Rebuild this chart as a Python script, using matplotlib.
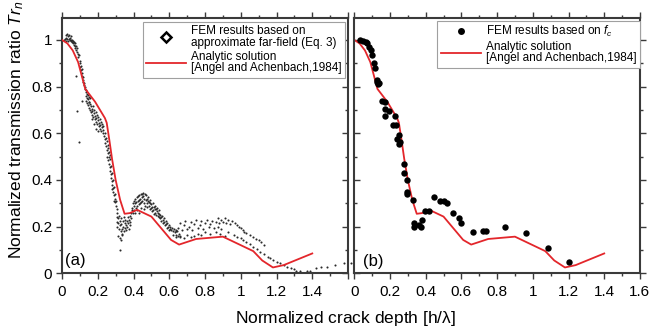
import numpy as np
import matplotlib.pyplot as plt
from matplotlib.lines import Line2D
from matplotlib.ticker import MultipleLocator, FixedLocator, FixedFormatter
from matplotlib.markers import TICKLEFT, TICKRIGHT

plt.rcParams['font.family'] = ['Liberation Sans', 'DejaVu Sans']
plt.rcParams['mathtext.fontset'] = 'custom'
plt.rcParams['mathtext.it'] = 'Liberation Sans:italic'
plt.rcParams['mathtext.rm'] = 'Liberation Sans'

# analytic solution (Angel & Achenbach 1984)
h_ana = [0, 0.03, 0.06, 0.09, 0.13, 0.185, 0.24, 0.25, 0.265, 0.28, 0.30, 0.325,
         0.35, 0.38, 0.42, 0.50, 0.61, 0.655, 0.75, 0.90, 1.07, 1.12, 1.18, 1.24, 1.40]
tr_ana = [1.0, 0.985, 0.955, 0.905, 0.79, 0.735, 0.665, 0.645, 0.57, 0.49, 0.40, 0.315,
          0.255, 0.258, 0.272, 0.243, 0.143, 0.123, 0.147, 0.157, 0.095, 0.055, 0.025, 0.035, 0.085]

# FEM, approximate far-field (Eq. 3)
h_far = [
    0.01, 0.015, 0.02, 0.022, 0.025, 0.028, 0.03, 0.033, 0.035, 0.038, 0.04, 0.042, 0.045, 0.048, 0.05,
    0.052, 0.055, 0.058, 0.06, 0.063, 0.065, 0.068, 0.07, 0.073, 0.075, 0.078, 0.08, 0.083, 0.085,
    0.088, 0.092, 0.095, 0.098, 0.1, 0.102, 0.105, 0.108, 0.11, 0.112, 0.114, 0.116, 0.118, 0.12,
    0.122, 0.125, 0.127, 0.13, 0.132, 0.135, 0.137, 0.14, 0.142, 0.145, 0.148, 0.15, 0.153, 0.156,
    0.135, 0.14, 0.145, 0.15, 0.152, 0.155, 0.158, 0.16, 0.162, 0.165, 0.168, 0.17, 0.172, 0.175,
    0.178, 0.18, 0.182, 0.185, 0.188, 0.19, 0.192, 0.195, 0.198, 0.2, 0.202, 0.205, 0.208, 0.21,
    0.212, 0.215, 0.218, 0.22, 0.222, 0.225, 0.228, 0.23, 0.232, 0.17, 0.18, 0.19, 0.2,
    0.235, 0.238, 0.24, 0.242, 0.245, 0.248, 0.25, 0.252, 0.255, 0.258, 0.26, 0.262, 0.265, 0.268,
    0.27, 0.25, 0.255,
    0.265, 0.268, 0.27, 0.272, 0.274, 0.276, 0.278, 0.28, 0.282, 0.284, 0.286, 0.288, 0.29, 0.292,
    0.294, 0.296, 0.298, 0.3, 0.302, 0.305, 0.308, 0.28, 0.29,
    0.305, 0.308, 0.31, 0.312, 0.315, 0.318, 0.32, 0.322, 0.325, 0.328, 0.33, 0.332, 0.335, 0.338,
    0.34, 0.342, 0.345, 0.348, 0.35, 0.352, 0.355, 0.358, 0.36, 0.362, 0.365, 0.368, 0.37, 0.372,
    0.375, 0.378, 0.38, 0.382, 0.385, 0.388, 0.39, 0.315, 0.325, 0.33, 0.322, 0.335,
    0.392, 0.395, 0.398, 0.4, 0.403, 0.405, 0.408, 0.41, 0.412, 0.415, 0.418, 0.42, 0.423, 0.425,
    0.428, 0.43, 0.433, 0.435, 0.438, 0.44, 0.443, 0.445, 0.448, 0.45, 0.453, 0.455, 0.458, 0.46,
    0.463, 0.465, 0.468, 0.47, 0.473, 0.475, 0.478, 0.48, 0.483, 0.485, 0.488, 0.49, 0.493, 0.495,
    0.498, 0.5, 0.503, 0.505, 0.508, 0.51, 0.513, 0.515, 0.518, 0.52, 0.523, 0.525, 0.528, 0.53,
    0.533, 0.535, 0.538, 0.54, 0.543, 0.545, 0.548, 0.55, 0.41, 0.42, 0.44, 0.46, 0.43,
    0.553, 0.556, 0.56, 0.563, 0.566, 0.57, 0.573, 0.576, 0.58, 0.583, 0.586, 0.59, 0.593, 0.596,
    0.6, 0.603, 0.606, 0.61, 0.615, 0.62, 0.625, 0.63, 0.635, 0.64, 0.645, 0.65, 0.655, 0.66,
    0.66, 0.69, 0.72, 0.75, 0.78, 0.81, 0.84, 0.87, 0.89, 0.91, 0.93, 0.95,
    0.65, 0.68, 0.71, 0.74, 0.77, 0.80, 0.83, 0.86, 0.88, 0.90, 0.92, 0.94,
    0.64, 0.67, 0.70, 0.73, 0.76, 0.79, 0.82, 0.85, 0.87, 0.89,
    0.62, 0.64, 0.66, 0.68, 0.70, 0.72, 0.74, 0.76, 0.78, 0.80, 0.83, 0.86, 0.885, 0.91,
    0.97, 0.98, 0.99, 1.0, 1.01, 1.02, 1.03, 1.05, 1.07, 1.085, 1.1, 1.115, 1.13,
    0.93, 0.96, 0.98, 1.0, 1.015, 1.03, 1.05, 1.07, 1.09, 1.11, 1.13, 1.15, 1.165, 1.18, 1.2,
    1.22, 1.24, 1.26, 1.28, 1.30, 1.31,
    1.333, 1.37, 1.39, 1.42, 1.45, 1.48, 1.53, 1.58, 1.615,
    0.078, 0.086, 0.095, 0.11,
]
tr_far = [
    1.0, 1.005, 1.01, 1.02, 0.995, 1.025, 1.005, 1.015, 0.995, 1.02, 1.005, 1.0, 1.01, 0.995, 1.0,
    1.015, 0.99, 1.0, 0.985, 0.995, 0.98, 0.99, 0.975, 0.985, 0.965, 0.975, 0.955, 0.965, 0.95,
    0.94, 0.925, 0.935, 0.91, 0.9, 0.885, 0.89, 0.87, 0.86, 0.875, 0.845, 0.83, 0.84, 0.82,
    0.805, 0.815, 0.79, 0.8, 0.775, 0.785, 0.76, 0.77, 0.75, 0.765, 0.745, 0.755, 0.735, 0.75,
    0.74, 0.73, 0.72, 0.735, 0.71, 0.725, 0.7, 0.715, 0.69, 0.705, 0.68, 0.695, 0.715, 0.67,
    0.685, 0.7, 0.66, 0.675, 0.69, 0.65, 0.665, 0.68, 0.64, 0.655, 0.67, 0.63, 0.645, 0.66,
    0.62, 0.635, 0.65, 0.61, 0.625, 0.64, 0.6, 0.615, 0.63, 0.66, 0.64, 0.62, 0.61,
    0.59, 0.575, 0.6, 0.56, 0.58, 0.545, 0.565, 0.53, 0.55, 0.515, 0.535, 0.5, 0.52, 0.49,
    0.505, 0.5, 0.485,
    0.47, 0.455, 0.44, 0.46, 0.425, 0.41, 0.43, 0.395, 0.38, 0.4, 0.365, 0.35, 0.37, 0.335,
    0.32, 0.34, 0.305, 0.29, 0.31, 0.275, 0.26, 0.36, 0.31,
    0.24, 0.22, 0.2, 0.235, 0.215, 0.19, 0.245, 0.225, 0.205, 0.18, 0.235, 0.21, 0.19, 0.17,
    0.225, 0.2, 0.18, 0.24, 0.215, 0.195, 0.23, 0.205, 0.185, 0.225, 0.2, 0.24, 0.215, 0.19,
    0.23, 0.205, 0.245, 0.22, 0.26, 0.235, 0.27, 0.16, 0.15, 0.143, 0.1, 0.165,
    0.28, 0.3, 0.26, 0.29, 0.31, 0.27, 0.3, 0.32, 0.28, 0.305, 0.325, 0.29, 0.31, 0.33,
    0.295, 0.315, 0.335, 0.3, 0.32, 0.34, 0.305, 0.325, 0.34, 0.31, 0.33, 0.345, 0.3, 0.32,
    0.34, 0.29, 0.315, 0.335, 0.3, 0.32, 0.285, 0.31, 0.325, 0.29, 0.305, 0.275, 0.3, 0.315,
    0.28, 0.295, 0.265, 0.285, 0.3, 0.27, 0.285, 0.255, 0.275, 0.29, 0.26, 0.275, 0.25, 0.265,
    0.28, 0.245, 0.26, 0.27, 0.24, 0.255, 0.235, 0.25, 0.26, 0.27, 0.28, 0.275, 0.26,
    0.24, 0.225, 0.245, 0.23, 0.215, 0.235, 0.22, 0.205, 0.225, 0.21, 0.195, 0.215, 0.2, 0.185,
    0.205, 0.19, 0.2, 0.185, 0.195, 0.18, 0.19, 0.175, 0.185, 0.165, 0.18, 0.16, 0.17, 0.155,
    0.215, 0.225, 0.22, 0.23, 0.225, 0.23, 0.225, 0.235, 0.23, 0.235, 0.23, 0.225,
    0.195, 0.205, 0.2, 0.21, 0.205, 0.215, 0.21, 0.22, 0.215, 0.22, 0.215, 0.21,
    0.18, 0.185, 0.19, 0.185, 0.195, 0.19, 0.2, 0.195, 0.2, 0.19,
    0.165, 0.155, 0.16, 0.15, 0.165, 0.155, 0.16, 0.17, 0.165, 0.175, 0.17, 0.175, 0.17, 0.16,
    0.215, 0.207, 0.2, 0.193, 0.185, 0.178, 0.171, 0.162, 0.154, 0.148, 0.143, 0.132, 0.121,
    0.175, 0.164, 0.157, 0.15, 0.142, 0.135, 0.125, 0.114, 0.104, 0.093, 0.082, 0.071, 0.064, 0.057, 0.05,
    0.043, 0.035, 0.028, 0.022, 0.017, 0.01,
    0.008, 0.01, 0.01, 0.022, 0.028, 0.028, 0.035, 0.042, 0.045,
    0.846, 0.695, 0.564, 0.738,
]

# FEM based on f_c
h_fc = [0.032, 0.05, 0.066, 0.073, 0.082, 0.092, 0.101, 0.11, 0.116, 0.125, 0.129, 0.138, 0.133,
        0.157, 0.17, 0.172, 0.194, 0.172, 0.226, 0.219, 0.232, 0.251, 0.241, 0.254, 0.249,
        0.281, 0.281, 0.293, 0.296, 0.296, 0.327, 0.336, 0.336, 0.362, 0.372, 0.377,
        0.395, 0.42, 0.448, 0.483, 0.502, 0.52, 0.552, 0.586, 0.6, 0.667, 0.723, 0.736,
        0.844, 0.962, 1.083, 1.204]
tr_fc = [1.0, 0.997, 0.993, 0.986, 0.971, 0.957, 0.936, 0.903, 0.881, 0.829, 0.819, 0.814, 0.81,
         0.74, 0.736, 0.703, 0.696, 0.674, 0.674, 0.636, 0.636, 0.593, 0.574, 0.564, 0.553,
         0.467, 0.429, 0.40, 0.35, 0.339, 0.314, 0.217, 0.2, 0.207, 0.2, 0.228,
         0.267, 0.267, 0.328, 0.309, 0.308, 0.303, 0.26, 0.236, 0.214, 0.178, 0.183, 0.183,
         0.197, 0.171, 0.11, 0.05]

x_labels_a = ['0', '0.2', '0.4', '0.6', '0.8', '1', '1.2', '1.4', '']
x_labels_b = ['0', '0.2', '0.4', '0.6', '0.8', '1', '1.2', '1.4', '1.6']
y_labels = ['0', '0.2', '0.4', '0.6', '0.8', '1']

red = '#e3262b'
spine_c = '#3a3a3a'

fig = plt.figure(figsize=(6.5, 3.33), dpi=100)
axA = fig.add_axes([0.0954, 0.1793, 0.44, 0.7667])
axB = fig.add_axes([0.545, 0.1793, 0.4395, 0.7667])

for ax, xl in ((axA, x_labels_a), (axB, x_labels_b)):
    ax.set_xlim(0, 1.6)
    ax.set_ylim(0, 1.094)
    ax.xaxis.set_major_locator(FixedLocator(np.arange(0, 1.61, 0.2)))
    ax.xaxis.set_major_formatter(FixedFormatter(xl))
    ax.xaxis.set_minor_locator(MultipleLocator(0.1))
    ax.yaxis.set_major_locator(FixedLocator(np.arange(0, 1.01, 0.2)))
    ax.yaxis.set_major_formatter(FixedFormatter(y_labels))
    ax.yaxis.set_minor_locator(MultipleLocator(0.1))
    for s in ax.spines.values():
        s.set_linewidth(1.5)
        s.set_color(spine_c)
    ax.tick_params(axis='x', which='both', top=True, bottom=True, direction='out',
                   labelsize=11, pad=4, color=spine_c)
    ax.tick_params(axis='y', which='both', left=True, right=True, direction='out',
                   labelsize=11, pad=3, color=spine_c)
    ax.tick_params(which='major', length=4.2, width=1)
    ax.tick_params(which='minor', length=2.3, width=1)
axB.tick_params(axis='y', labelleft=False)

# inner sides of the two panels: ticks point into each panel
fig.canvas.draw()
for t in axA.yaxis.get_major_ticks() + axA.yaxis.get_minor_ticks():
    t.tick2line.set_marker(TICKLEFT)
for t in axB.yaxis.get_major_ticks() + axB.yaxis.get_minor_ticks():
    t.tick1line.set_marker(TICKRIGHT)

axA.plot(h_far, tr_far, 'o', ms=1.5, mew=0, color='#2a2a2a', clip_on=False, zorder=2)
axA.plot(h_ana, tr_ana, '-', color=red, lw=1.3, zorder=3)
axB.plot(h_fc, tr_fc, 'o', ms=4.6, mew=0, color='black', zorder=3)
axB.plot(h_ana, tr_ana, '-', color=red, lw=1.3, zorder=2)

hA = [Line2D([], [], ls='none', marker='D', ms=5.5, mfc='white', mec='black', mew=1.8),
      Line2D([], [], color=red, lw=1.3)]
legA = axA.legend(hA, ['FEM results based on\napproximate far-field (Eq. 3)',
                       'Analytic solution\n[Angel and Achenbach,1984]'],
                  loc='upper right', bbox_to_anchor=(0.99, 0.985), borderaxespad=0,
                  fontsize=8.5, handlelength=3.4, handletextpad=0.4, labelspacing=0.15,
                  borderpad=0.3, fancybox=False, edgecolor='#a0a0a0', framealpha=1)
hB = [Line2D([], [], ls='none', marker='o', ms=5, color='black', mew=0),
      Line2D([], [], color=red, lw=1.3)]
legB = axB.legend(hB, ['FEM results based on $f_c$',
                       'Analytic solution\n[Angel and Achenbach,1984]'],
                  loc='upper right', bbox_to_anchor=(1.0, 0.99), borderaxespad=0,
                  fontsize=8.5, handlelength=3.4, handletextpad=0.4, labelspacing=0.15,
                  borderpad=0.3, fancybox=False, edgecolor='#a0a0a0', framealpha=1)
for leg in (legA, legB):
    leg.get_frame().set_linewidth(0.8)
    for t in leg.get_texts():
        t.set_linespacing(0.95)

axA.text(0.012, 0.033, '(a)', transform=axA.transAxes, fontsize=12, va='baseline')
axB.text(0.03, 0.03, '(b)', transform=axB.transAxes, fontsize=12, va='baseline')

fig.text(0.532, 0.045, r'Normalized crack depth [h/$\mathrm{\lambda}$]', fontsize=12.5,
         ha='center', va='center')
fig.text(0.025, 0.61, r'Normalized transmission ratio $Tr_n$', fontsize=12.5,
         rotation=90, ha='center', va='center')

fig.savefig('out.png', dpi=100)
